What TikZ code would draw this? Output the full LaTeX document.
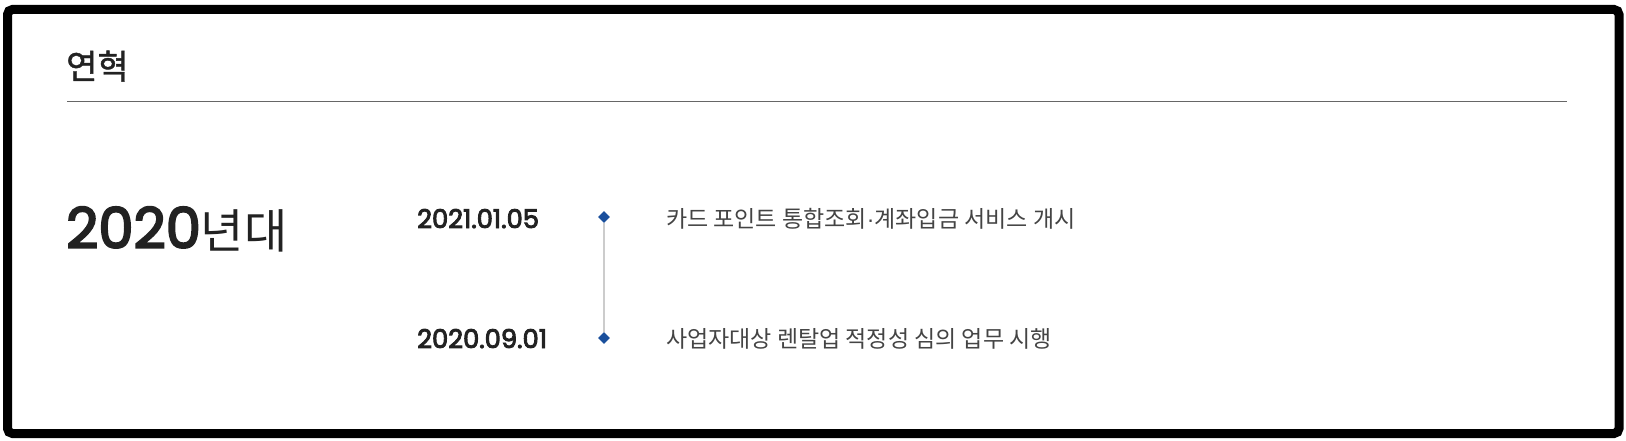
\documentclass[tikz,border=0pt]{standalone}
\usepackage{fontspec}
\usepackage{xcolor}
\usetikzlibrary{positioning,shapes.geometric}
\newfontfamily\krfont{Noto Sans CJK KR}
\newfontfamily\krmedfont{Noto Sans CJK KR}[FakeBold=1.2]
\newfontfamily\numfont{Poppins}[FakeBold=3.5]
\newfontfamily\dotfont{Liberation Sans}
\definecolor{histdark}{HTML}{222222}
\definecolor{histgray}{HTML}{444444}
\definecolor{histrule}{HTML}{666666}
\definecolor{histblue}{HTML}{1A4F9C}
\definecolor{histline}{HTML}{CCCCCC}

\begin{document}
\begin{tikzpicture}[x=1pt, y=-1pt,
    head/.style={anchor=base west, inner sep=0pt, text=histdark,
                 font=\krmedfont\fontsize{34}{34}\selectfont},
    decade/.style={anchor=base west, inner sep=0pt, text=histdark},
    datebox/.style={anchor=base west, inner sep=0pt, text=histdark,
                    font=\numfont\fontsize{25.8}{26}\selectfont},
    event/.style={anchor=base west, inner sep=0pt, text=histgray,
                  font=\krfont\fontsize{23}{23}\selectfont},
    dot/.style={diamond, fill=histblue, inner sep=0pt, minimum size=12pt},
    link/.style={draw=histline, line width=1.2pt}
  ]
    \useasboundingbox (0,0) rectangle (1626,441);
    \draw[line width=9pt, rounded corners=5pt] (7.5,9.5) rectangle (1619,433.5);

    % title and rule
    \node[head] (title) at (66,79) {연혁};
    \coordinate (ruleL) at (67,101.5);
    \coordinate (ruleR) at (1567,101.5);
    \draw[histrule, line width=1.3pt] (ruleL) -- (ruleR);

    % decade
    \node[decade] (dec) at (66,248)
      {{\numfont\fontsize{56}{56}\selectfont 2020}{\krfont\fontsize{47}{47}\selectfont 년대}};

    % entries
    \node[datebox] (d1) at (417,228) {2021.01.05};
    \node[datebox] (d2) at (417,348) {2020.09.01};
    \node[dot] (p1) at (604,217) {};
    \node[dot] (p2) at (604,338) {};
    \draw[link] (p1) -- (p2);
    \node[event] (e1) at (666,227) {카드 포인트 통합조회{\dotfont ·}계좌입금 서비스 개시};
    \node[event] (e2) at (666,347) {사업자대상 렌탈업 적정성 심의 업무 시행};
  \end{tikzpicture}
\end{document}
